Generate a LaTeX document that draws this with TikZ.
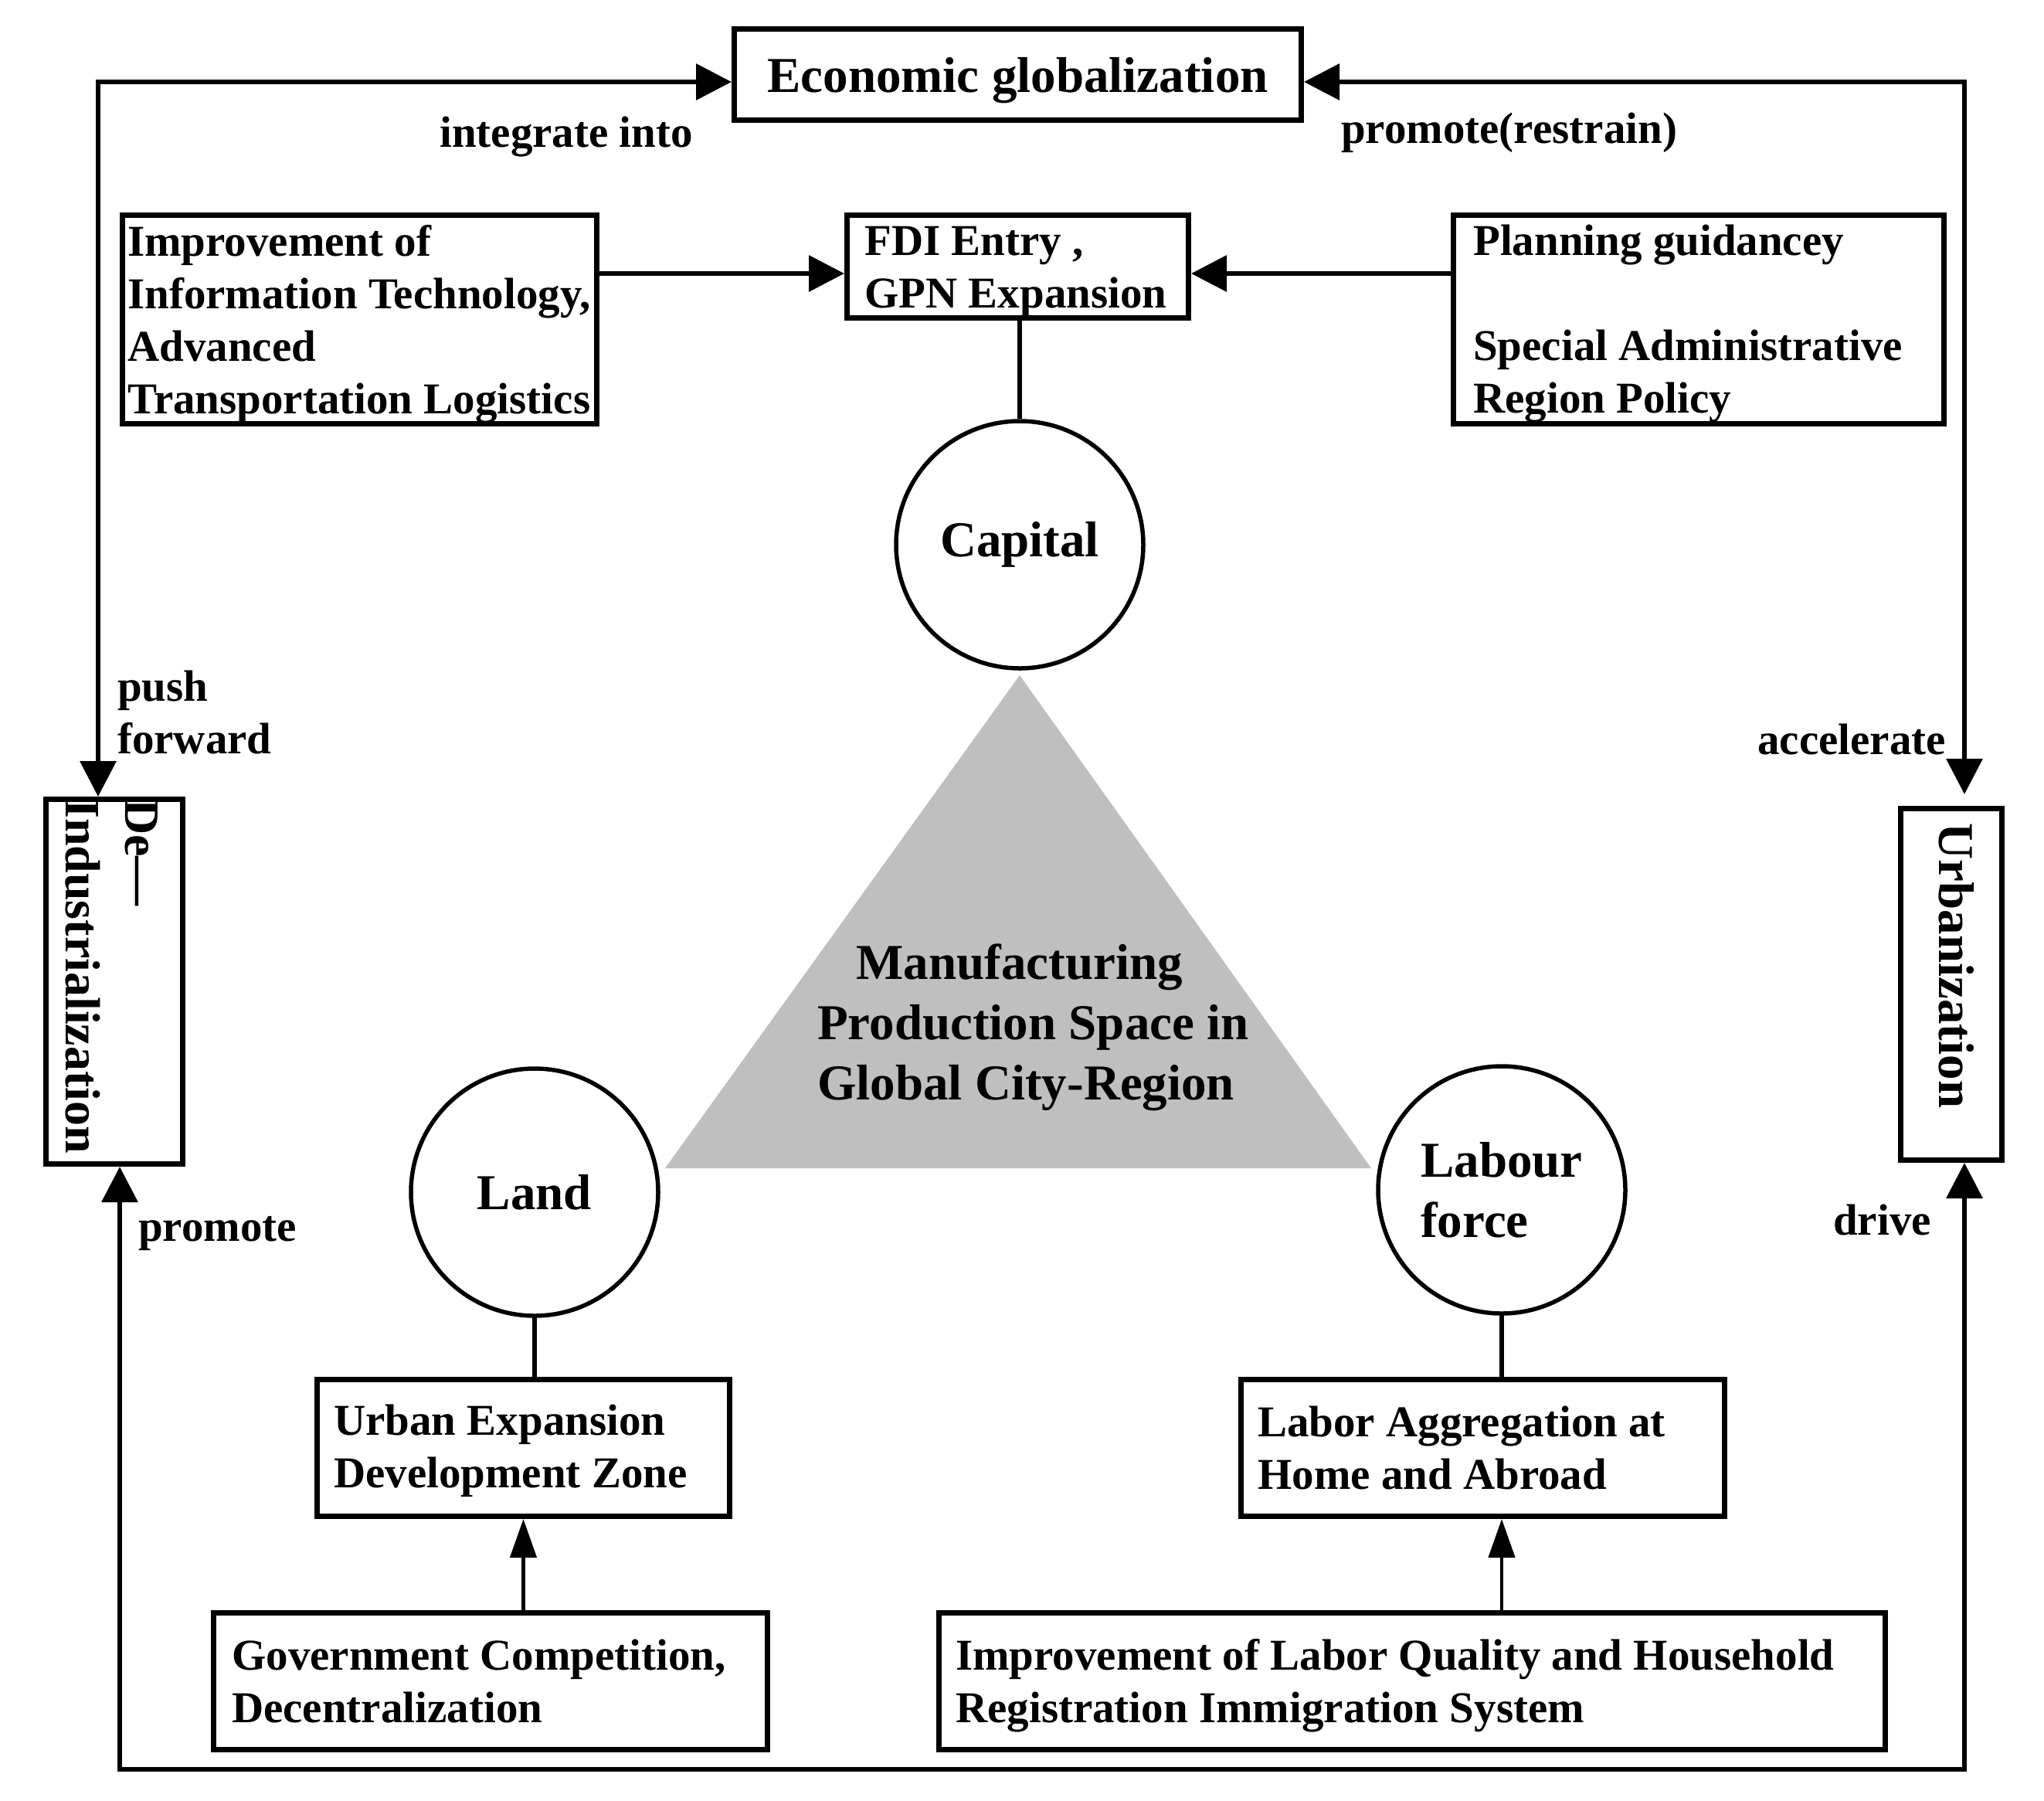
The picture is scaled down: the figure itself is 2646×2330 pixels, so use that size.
\documentclass[tikz,border=0pt]{standalone}
\usepackage{fontspec}
\setmainfont{Liberation Serif}
\usetikzlibrary{arrows.meta}
\definecolor{trigray}{RGB}{191,191,191}
\begin{document}
\begin{tikzpicture}[x=1pt,y=-1pt,
  frame/.style={draw, line width=7pt, inner sep=0pt},
  txt/.style={font=\fontsize{57}{68}\selectfont\bfseries, inner sep=0pt, align=left},
  bigtxt/.style={font=\fontsize{65}{78}\selectfont\bfseries, inner sep=0pt},
  disc/.style={draw, circle, line width=5.5pt, minimum size=320pt, inner sep=0pt, align=left, font=\fontsize{65}{78}\selectfont\bfseries},
  conn/.style={line width=6pt},
  arr/.style={line width=6.5pt, -{Triangle[length=46pt,width=46pt]}},
  biarr/.style={line width=6.5pt, {Triangle[length=46pt,width=46pt]}-{Triangle[length=46pt,width=46pt]}},
  thinarr/.style={line width=4.5pt, -{Triangle[length=50pt,width=34pt]}}
]
\useasboundingbox (0,0) rectangle (2646,2330);
\fill[white] (0,0) rectangle (2646,2330);

% central triangle
\fill[trigray] (1320,874) -- (861,1512) -- (1775,1512) -- cycle;
\node[bigtxt, align=left, anchor=west] (Core) at (1058,1330) {\hspace*{50pt}Manufacturing\\Production Space in\\Global City-Region};

% boxes
\node[frame, minimum width=734pt, minimum height=118pt, text depth=0pt, font=\fontsize{65}{78}\selectfont\bfseries] (Econ) at (1317.5,96.5) {Economic globalization};
\node[frame, minimum width=614pt, minimum height=270pt] (Impr) at (465.5,413.5) {};
\node[frame, minimum width=442pt, minimum height=133pt] (FDI) at (1317.5,345) {};
\node[frame, minimum width=635pt, minimum height=270pt] (Plan) at (2199,413.5) {};
\node[frame, minimum width=177pt, minimum height=472pt] (DeInd) at (148,1270.5) {};
\node[frame, minimum width=131pt, minimum height=455pt] (Urb) at (2526,1274) {};
\node[frame, minimum width=534pt, minimum height=177pt] (UrbExp) at (677.5,1874) {};
\node[frame, minimum width=626pt, minimum height=177pt] (LabAgg) at (1919.5,1874) {};
\node[frame, minimum width=717pt, minimum height=177pt] (Gov) at (635,2176) {};
\node[frame, minimum width=1225pt, minimum height=177pt] (LabQ) at (1828,2176) {};

% box texts
\node[txt, anchor=west] (ImprT) at ([xshift=10pt,yshift=-6pt]Impr.west) {Improvement of\\Information Technology,\\Advanced\\Transportation Logistics};
\node[txt, anchor=west] (FDIT) at ([xshift=26pt,yshift=-7pt]FDI.west) {FDI Entry ,\\GPN Expansion};
\node[txt, anchor=west] (PlanT) at ([xshift=29pt,yshift=-6pt]Plan.west) {Planning guidancey\\ \mbox{}\\Special Administrative\\Region Policy};
\node[txt, anchor=west] (UrbExpT) at ([xshift=25pt,yshift=-4pt]UrbExp.west) {Urban Expansion\\Development Zone};
\node[txt, anchor=west] (LabAggT) at ([xshift=25pt]LabAgg.west) {Labor Aggregation at\\Home and Abroad};
\node[txt, anchor=west] (GovT) at ([xshift=27pt]Gov.west) {Government Competition,\\Decentralization};
\node[txt, anchor=west] (LabQT) at ([xshift=25pt,yshift=-6pt]LabQ.west) {Improvement of Labor Quality and Household\\Registration Immigration System};

% rotated texts
\node[bigtxt, font=\fontsize{64}{77}\selectfont\bfseries, rotate=-90, align=left, anchor=north west] (DeIndT) at (205,1034) {De—\\Industrialization};
\node[bigtxt, rotate=-90] (UrbT) at (2533,1250) {Urbanization};

% circles
\node[disc] (Cap) at (1320,705) {Capital};
\node[disc] (Land) at (692,1543) {Land};
\node[disc] (Labour) at (1944,1540) {Labour\\force};

% coordinates for loop
\coordinate (tl) at (127,106);
\coordinate (tr) at (2543,106);
\coordinate (bl) at (155,2290);
\coordinate (br) at (2543,2290);
\coordinate (ymid) at (0,354);

% loop connectors
\draw[biarr] (Econ.west |- tl) -- (tl) -- (DeInd.north -| tl);
\draw[biarr, shorten >=15pt] (Econ.east |- tr) -- (tr) -- (Urb.north -| tr);
\draw[biarr] (DeInd.south -| bl) -- (bl) -- (br) -- (Urb.south -| br);

% inner connectors
\draw[arr] (Impr.east |- ymid) -- (FDI.west |- ymid);
\draw[arr] (Plan.west |- ymid) -- (FDI.east |- ymid);
\draw[conn] (FDI.south -| Cap.north) -- (Cap.north);
\draw[conn] (Land.south) -- (Land.south |- UrbExp.north);
\draw[thinarr] (Gov.north -| UrbExp.south) -- (UrbExp.south);
\draw[conn] (Labour.south) -- (Labour.south |- LabAgg.north);
\draw[thinarr] (LabQ.north -| Labour.south) -- (LabAgg.south -| Labour.south);

% labels
\node[txt, anchor=base west] (lInt) at (569,190) {integrate into};
\node[txt, anchor=base west] (lProm) at (1736,185) {promote(restrain)};
\node[txt, anchor=base west] (lPush) at (152,975) {push\\forward};
\node[txt, anchor=base east] (lAcc) at (2519,976) {accelerate};
\node[txt, anchor=base west] (lPromote) at (179,1606) {promote};
\node[txt, anchor=base west] (lDrive) at (2373,1598) {drive};
\end{tikzpicture}
\end{document}
